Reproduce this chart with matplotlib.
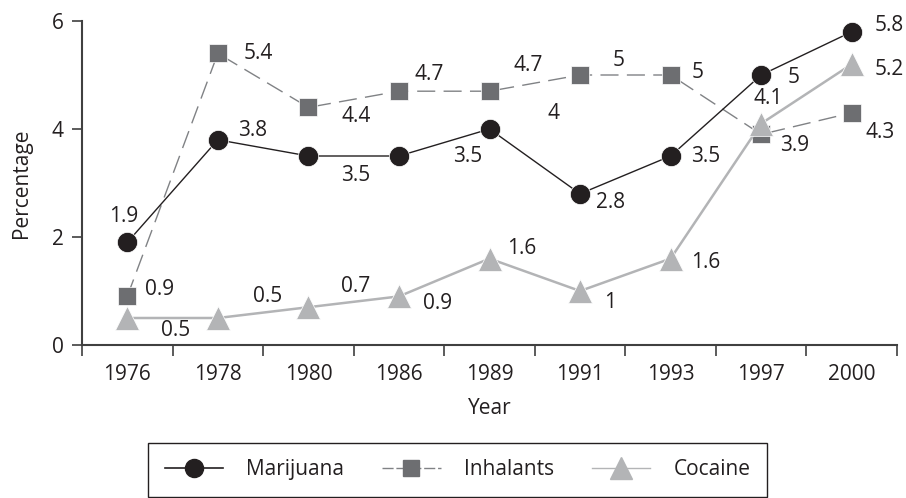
import matplotlib
matplotlib.use("Agg")
import matplotlib.pyplot as plt
import numpy as np
from matplotlib.lines import Line2D

years = ["1976", "1978", "1980", "1986", "1989", "1991", "1993", "1997", "2000"]
marijuana = [1.9, 3.8, 3.5, 3.5, 4.0, 2.8, 3.5, 5.0, 5.8]
inhalants = [0.9, 5.4, 4.4, 4.7, 4.7, 5.0, 5.0, 3.9, 4.3]
cocaine = [0.5, 0.5, 0.7, 0.9, 1.6, 1.0, 1.6, 4.1, 5.2]

mar_labels = ["1.9", "3.8", "3.5", "3.5", "4", "2.8", "3.5", "5", "5.8"]
inh_labels = ["0.9", "5.4", "4.4", "4.7", "4.7", "5", "5", "3.9", "4.3"]
coc_labels = ["0.5", "0.5", "0.7", "0.9", "1.6", "1", "1.6", "4.1", "5.2"]

# label offsets in pixels (dx, dy up-positive)
mar_off = [(-4, 26), (35, 9), (47, -19), (69, 0), (64, 16), (31, -9), (35, 0), (32, -2), (38, 6)]
inh_off = [(32, 7), (40, 0), (48, -9), (30, 17), (39, 26), (39, 15), (27, 3), (33, -11), (28, -20)]
coc_off = [(48, -12), (50, 21), (47, 21), (39, -7), (32, 10), (30, -12), (35, -4), (7, 25), (38, -5)]

plt.rcParams['font.family'] = ['Open Sans', 'DejaVu Sans']
fs = 15
txtc = '#231f20'

fig = plt.figure(figsize=(9.06, 4.98), dpi=100)
ax = fig.add_axes([82/906, 1-345/498, (897-82)/906, (345-21)/498])

x = np.arange(len(years))
c_mar = '#231f20'
c_inh = '#6d6e71'
c_inhl = '#808285'
c_coc = '#b3b4b6'

ax.plot(x, inhalants, color=c_inhl, lw=1.0, dashes=(13, 6), zorder=2)
ax.plot(x, inhalants, ls='none', marker='s', ms=13, mfc=c_inh, mec='white', mew=0.5, zorder=3)
ax.plot(x, marijuana, color=c_mar, lw=1.0, zorder=4)
ax.plot(x, marijuana, ls='none', marker='o', ms=14.5, mfc=c_mar, mec='white', mew=0.5, zorder=5)
ax.plot(x, cocaine, color=c_coc, lw=1.8, zorder=6)
ax.plot(x, cocaine, ls='none', marker='^', ms=17, mfc=c_coc, mec='white', mew=0.5, zorder=7)

for vals, labs, offs in [(marijuana, mar_labels, mar_off), (inhalants, inh_labels, inh_off), (cocaine, coc_labels, coc_off)]:
    for xi, v, l, o in zip(x, vals, labs, offs):
        ax.annotate(l, (xi, v), xytext=o, textcoords='offset pixels', ha='center', va='center',
                    fontsize=fs, color=txtc, zorder=8)

ax.set_xlim(-0.5, len(years) - 0.5)
ax.set_ylim(0, 6)
ax.set_yticks([0, 2, 4, 6])
ax.set_xticks(np.arange(len(years) + 1) - 0.5)
ax.set_xticklabels([])
ax.set_xticks(x, minor=True)
ax.set_xticklabels(years, minor=True)
ax.tick_params(axis='x', which='minor', length=0, pad=14, labelsize=fs, labelcolor=txtc)
ax.tick_params(axis='x', which='major', length=8, width=1.2, color='#404040')
ax.tick_params(axis='y', length=7, width=1.2, color='#404040', labelsize=fs, labelcolor=txtc, pad=6)

for s in ['top', 'right']:
    ax.spines[s].set_visible(False)
for s in ['left', 'bottom']:
    ax.spines[s].set_color('#404040')
    ax.spines[s].set_linewidth(1.5)

ax.set_ylabel('Percentage', fontsize=fs, color=txtc, labelpad=14)
ax.set_xlabel('Year', fontsize=fs, color=txtc, labelpad=9)

handles = [
    Line2D([], [], color=c_mar, lw=1.2, marker='o', ms=13, mfc=c_mar, mec=c_mar),
    Line2D([], [], color=c_inhl, lw=1.0, dashes=(8, 2), marker='s', ms=12, mfc=c_inh, mec=c_inh),
    Line2D([], [], color=c_coc, lw=1.0, marker='^', ms=16, mfc=c_coc, mec=c_coc),
]
leg = fig.legend(handles, ['Marijuana', 'Inhalants', 'Cocaine'], loc='lower left', ncol=3,
                 bbox_to_anchor=(148/906, 1/498, (767-148)/906, 57/498), mode='expand', fancybox=False,
                 edgecolor=txtc, fontsize=fs, handlelength=2.8, handletextpad=1.1,
                 borderpad=0.8, framealpha=1, borderaxespad=0)
leg.get_frame().set_linewidth(1.0)
for t in leg.get_texts():
    t.set_color(txtc)

fig.savefig('out.png', dpi=100)
